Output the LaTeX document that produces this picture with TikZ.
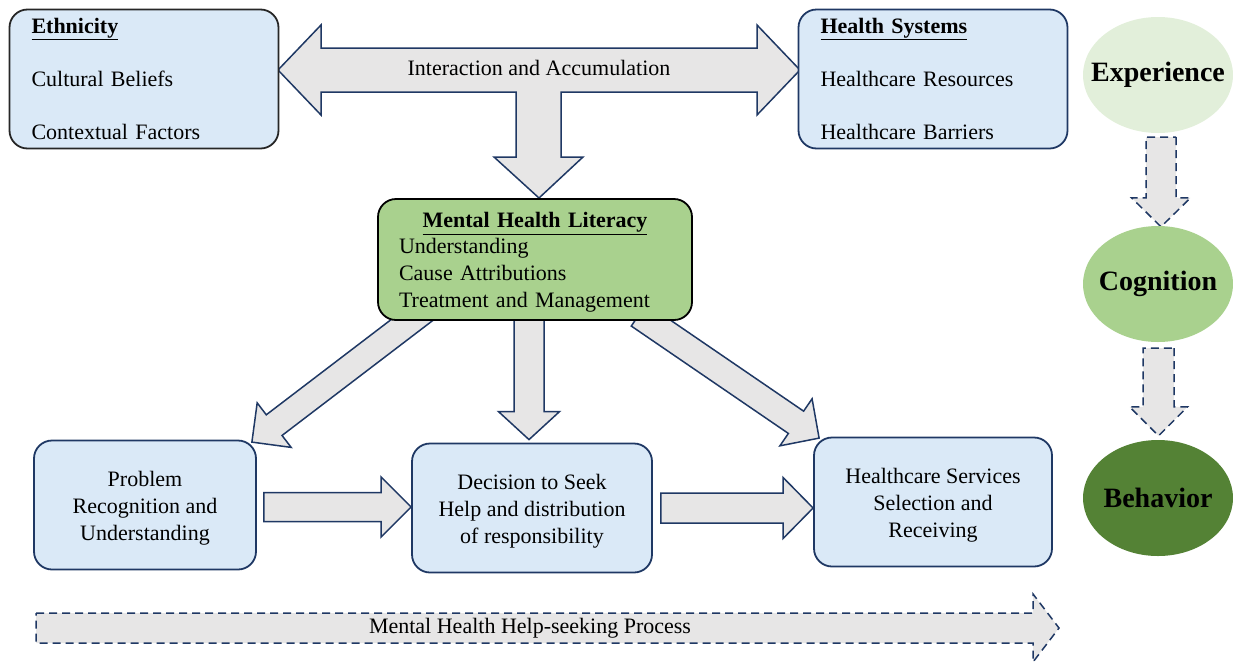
\documentclass[tikz,border=0pt]{standalone}
\usepackage{fontspec}
\setmainfont{Liberation Serif}
\usetikzlibrary{calc,shapes.geometric}

\definecolor{boxblue}{HTML}{DAE9F7}
\definecolor{edgenavy}{HTML}{1F3864}
\definecolor{arrowgray}{HTML}{E7E6E6}
\definecolor{litgreen}{HTML}{A9D18E}
\definecolor{palegreen}{HTML}{E2EFDA}
\definecolor{darkgreen}{HTML}{548235}

\pgfdeclarelayer{background}
\pgfsetlayers{background,main}

% strut that lowers a node's first line a little
\newcommand\firstline{\rule{0pt}{21.5pt}}

\tikzset{
  base/.style={font=\fontsize{22}{27}\selectfont, inner sep=0pt},
  factorbox/.style={base, draw=#1, fill=boxblue, line width=1.8pt,
    rounded corners=18pt, align=left, minimum width=269pt, minimum height=139pt,
    text width=225pt, inner xsep=22pt},
  stagebox/.style={base, draw=edgenavy, fill=boxblue, line width=1.8pt,
    rounded corners=18pt, align=center, minimum height=129pt},
  literacybox/.style={base, draw=black, fill=litgreen, line width=1.8pt,
    rounded corners=18pt, align=left, minimum width=314pt, minimum height=121pt,
    text width=272pt, inner xsep=21pt},
  levelnode/.style={ellipse, fill=#1, minimum width=150pt, minimum height=116pt,
    inner sep=0pt, font=\fontsize{28}{32}\selectfont\bfseries},
  blockarrow/.style={draw=edgenavy, fill=arrowgray, line width=1.5pt, line join=miter},
  dashedarrow/.style={blockarrow, dash pattern=on 8pt off 5pt},
}

% block arrow from #2 (back end centre) to #3 (tip):
% #4 half shaft width, #5 half head width, #6 head length
\newcommand\blockarrow[6][blockarrow]{%
  \coordinate (ba h) at ($(#3)!#6!(#2)$);
  \path[#1] ($(#2)!#4!90:(#3)$) -- ($(ba h)!#4!-90:(#2)$) -- ($(ba h)!#5!-90:(#2)$)
    -- (#3) -- ($(ba h)!#5!90:(#2)$) -- ($(ba h)!#4!90:(#2)$)
    -- ($(#2)!#4!-90:(#3)$) -- cycle;}

\begin{document}
\begin{tikzpicture}[x=1pt, y=-1pt]
\useasboundingbox (0,0) rectangle (1233,662);

% factors
\node[factorbox=black!85] (eth) at (144,79)
  {\textbf{\underline{Ethnicity}}\\[26pt] Cultural Beliefs\\[26pt] Contextual Factors};
\node[factorbox=edgenavy] (hs) at (933,79)
  {\textbf{\underline{Health Systems}}\\[26pt] Healthcare Resources\\[26pt] Healthcare Barriers};

% mental health literacy
\node[literacybox] (mhl) at (535,259.5)
  {\firstline\makebox[\linewidth]{\textbf{\underline{Mental Health Literacy}}}\\[-1pt]
   Understanding\\ Cause Attributions\\ Treatment and Management};

% help-seeking stages
\node[stagebox, minimum width=222pt] (prob) at (145,505)
  {\firstline Problem\\ Recognition and\\ Understanding};
\node[stagebox, minimum width=240pt] (dec) at (532,508)
  {\firstline Decision to Seek\\ Help and distribution\\ of responsibility};
\node[stagebox, minimum width=238pt] (hcs) at (933,502)
  {\firstline Healthcare Services\\ Selection and\\ Receiving};

% levels
\node[levelnode=palegreen] (exp) at (1158,75) {\makebox[0pt]{Experience}};
\node[levelnode=litgreen] (cog) at (1158,284) {\makebox[0pt]{Cognition}};
\node[levelnode=darkgreen] (beh) at (1158,498) {\makebox[0pt]{Behavior}};

% arrow end points
\coordinate (a1s) at ($(prob.east)+(7,2)$);
\coordinate (a1e) at (dec.west |- a1s);
\coordinate (a2s) at ($(dec.east)+(8,0)$);
\coordinate (a2e) at (hcs.west |- a2s);
\coordinate (mde) at ($(dec.north)+(-3,-3)$);
\coordinate (mds) at ($(mde |- mhl.south)+(0,-10)$);
\coordinate (lds) at ($(mhl.south west)+(56,-17)$);
\coordinate (lde) at ($(prob.north east)+(-5,2.5)$);
\coordinate (rds) at ($(mhl.south east)+(-54,-6)$);
\coordinate (rde) at ($(hcs.north west)+(6,1.5)$);
\coordinate (e1s) at ($(exp.south)+(3,4)$);
\coordinate (e1e) at ($(cog.north -| e1s)+(0,1)$);
\coordinate (e2s) at ($(cog.south)+(0.5,6)$);
\coordinate (e2e) at ($(beh.north -| e2s)+(0,-4)$);
\coordinate (ps) at (36,628);
\coordinate (pe) at (1059,628);

\begin{pgfonlayer}{background}
  % interaction arrow between the factors, feeding literacy
  \path[blockarrow] (278,70) -- (321,25) -- (321,48) -- (757,48) -- (757,25)
    -- (800,70) -- (757,115) -- (757,92) -- (561,92) -- (561,157) -- (583,157)
    -- (539,198) -- (494,157) -- (516,157) -- (516,92) -- (321,92) -- (321,115) -- cycle;
  % literacy to the stages
  \blockarrow{lds}{lde}{13pt}{28pt}{28pt}
  \blockarrow{mds}{mde}{15pt}{30.5pt}{28pt}
  \blockarrow{rds}{rde}{13.5pt}{28.5pt}{28pt}
  % stage to stage
  \blockarrow{a1s}{a1e}{14.5pt}{30pt}{30pt}
  \blockarrow{a2s}{a2e}{15pt}{30.5pt}{30pt}
  % levels
  \blockarrow[dashedarrow]{e1s}{e1e}{15pt}{29.5pt}{29pt}
  \blockarrow[dashedarrow]{e2s}{e2e}{15.5pt}{29pt}{29pt}
  % process
  \blockarrow[dashedarrow]{ps}{pe}{15pt}{34pt}{26pt}
\end{pgfonlayer}

\node[base] (inter) at (539,68) {Interaction and Accumulation};
\node[base] (proc) at (530,628) {Mental Health Help-seeking Process};
\end{tikzpicture}
\end{document}
